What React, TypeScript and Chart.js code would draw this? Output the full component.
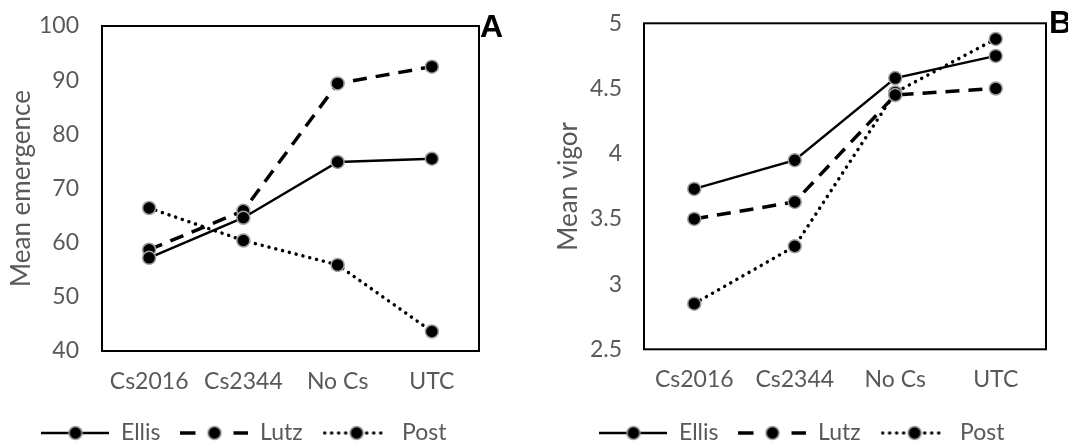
import React, { useEffect, useRef } from 'react';
import { Chart, registerables } from 'chart.js';

Chart.register(...registerables);

// ---------- data ----------
const categories = ['Cs2016', 'Cs2344', 'No Cs', 'UTC'];
const seriesNames = ['Ellis', 'Lutz', 'Post'];

const emergenceEllis = [57.2, 64.6, 74.9, 75.5];
const emergenceLutz = [58.7, 65.9, 89.4, 92.5];
const emergencePost = [66.4, 60.4, 55.9, 43.6];

const vigorEllis = [3.73, 3.95, 4.58, 4.75];
const vigorLutz = [3.5, 3.63, 4.45, 4.5];
const vigorPost = [2.85, 3.29, 4.47, 4.88];

const emergenceTicks = [40, 50, 60, 70, 80, 90, 100];
const vigorTicks = [2.5, 3, 3.5, 4, 4.5, 5];

// ---------- styles ----------
const GRAY = '#595959';
const FONT = { family: 'Lato', size: 23 };
const TITLE_FONT = { family: 'Lato', size: 26, lineHeight: 1 };
const lineStyles = [
  { width: 2.5, dash: [] as number[], cap: 'butt' as CanvasLineCap },
  { width: 3.5, dash: [14, 9], cap: 'butt' as CanvasLineCap },
  { width: 3.5, dash: [0.01, 7], cap: 'round' as CanvasLineCap },
];

function makeSymbol(i: number): HTMLCanvasElement {
  const c = document.createElement('canvas');
  c.width = 68;
  c.height = 18;
  const ctx = c.getContext('2d')!;
  const st = lineStyles[i];
  const cy = 9;
  ctx.strokeStyle = '#000';
  ctx.lineWidth = st.width;
  ctx.lineCap = st.cap;
  if (i === 1) {
    ctx.beginPath();
    ctx.moveTo(0, cy);
    ctx.lineTo(15, cy);
    ctx.moveTo(53, cy);
    ctx.lineTo(68, cy);
    ctx.stroke();
  } else {
    ctx.setLineDash(st.dash);
    ctx.beginPath();
    ctx.moveTo(i === 2 ? 2 : 0, cy);
    ctx.lineTo(i === 2 ? 64 : 68, cy);
    ctx.stroke();
    ctx.setLineDash([]);
  }
  ctx.beginPath();
  ctx.arc(34, cy, 6.5, 0, Math.PI * 2);
  ctx.fillStyle = '#000';
  ctx.fill();
  ctx.lineWidth = 1.5;
  ctx.strokeStyle = '#a0a0a0';
  ctx.stroke();
  return c;
}

const framePlugin = {
  id: 'frame',
  beforeDatasetsDraw(chart: any) {
    const { ctx, chartArea } = chart;
    const { left, top, right, bottom } = chartArea;
    ctx.save();
    ctx.strokeStyle = '#000';
    ctx.lineWidth = 2;
    ctx.strokeRect(left, top, right - left, bottom - top);
    ctx.restore();
  },
};

interface PanelProps {
  series: number[][];
  ticks: number[];
  yTitle: string;
  yWidth: number;
  xHeight: number;
  padLeft: number;
  padRight: number;
  padTop: number;
  tickPad: number;
  titlePad: number;
  xPad: number;
  width: number;
  left: number;
}

function Panel(p: PanelProps) {
  const ref = useRef<HTMLCanvasElement>(null);
  useEffect(() => {
    const symbols = seriesNames.map((_, i) => makeSymbol(i));
    const chart = new Chart(ref.current!, {
      type: 'line',
      data: {
        labels: categories,
        datasets: p.series.map((vals, i) => ({
          label: seriesNames[i],
          data: vals,
          borderColor: '#000',
          borderWidth: lineStyles[i].width,
          borderDash: lineStyles[i].dash,
          borderCapStyle: lineStyles[i].cap,
          pointRadius: 6.5,
          pointBorderWidth: 1.5,
          pointBorderColor: '#a0a0a0',
          pointBackgroundColor: '#000',
          pointStyle: 'circle',
          tension: 0,
          fill: false,
          clip: false,
        })),
      },
      options: {
        animation: false,
        responsive: false,
        maintainAspectRatio: false,
        layout: { padding: { left: p.padLeft, right: p.padRight, top: p.padTop, bottom: -9.5 } },
        plugins: {
          tooltip: { enabled: false },
          legend: {
            display: true,
            position: 'bottom',
            labels: {
              usePointStyle: true,
              pointStyleWidth: 68,
              padding: 20,
              color: GRAY,
              font: FONT,
              generateLabels: () =>
                seriesNames.map((name, i) => ({
                  text: name,
                  pointStyle: symbols[i],
                  datasetIndex: i,
                  fontColor: GRAY,
                  fillStyle: 'transparent',
                  strokeStyle: 'transparent',
                  lineWidth: 0,
                  hidden: false,
                })),
            },
          },
        },
        scales: {
          x: {
            offset: true,
            grid: { display: false, drawTicks: false },
            border: { display: false },
            ticks: { color: GRAY, font: FONT, padding: p.xPad, maxRotation: 0, autoSkip: false },
            afterFit: (s: any) => {
              s.height = p.xHeight;
              s.paddingLeft = 0;
              s.paddingRight = 0;
            },
          },
          y: {
            min: p.ticks[0],
            max: p.ticks[p.ticks.length - 1],
            grid: { display: false, drawTicks: false },
            border: { display: false },
            ticks: {
              color: GRAY,
              font: FONT,
              padding: p.tickPad,
              stepSize: p.ticks[1] - p.ticks[0],
              callback: (v: any) => String(+v),
            },
            title: {
              display: true,
              text: p.yTitle,
              color: GRAY,
              font: TITLE_FONT,
              padding: { top: p.titlePad, bottom: 0 },
            },
            afterFit: (s: any) => {
              s.width = p.yWidth;
              s.paddingTop = 0;
              s.paddingBottom = 0;
            },
          },
        },
      },
      plugins: [framePlugin],
    } as any);
    return () => chart.destroy();
  }, []);
  return (
    <canvas
      ref={ref}
      width={p.width}
      height={445}
      style={{ position: 'absolute', left: p.left, top: 0, width: p.width, height: 445, display: 'block' }}
    />
  );
}

const letterStyle: React.CSSProperties = {
  position: 'absolute',
  fontFamily: '"Liberation Sans", Arial, sans-serif',
  fontWeight: 'bold',
  fontSize: 32,
  lineHeight: '32px',
  color: '#000',
};

export default function App() {
  return (
    <div style={{ position: 'absolute', left: 0, top: 0, width: 1068, height: 445, background: '#fff', overflow: 'hidden' }}>
      <Panel
        series={[emergenceEllis, emergenceLutz, emergencePost]}
        ticks={emergenceTicks}
        yTitle="Mean emergence"
        yWidth={93}
        xHeight={50.5}
        padLeft={9}
        padRight={9}
        padTop={26}
        tickPad={23}
        titlePad={0}
        xPad={16.9}
        width={488}
        left={0}
      />
      <Panel
        series={[vigorEllis, vigorLutz, vigorPost]}
        ticks={vigorTicks}
        yTitle="Mean vigor"
        yWidth={86}
        xHeight={52.2}
        padLeft={22}
        padRight={22}
        padTop={23.3}
        tickPad={22}
        titlePad={-2}
        xPad={16.9}
        width={532}
        left={536}
      />
      <div style={{ ...letterStyle, left: 480, top: 10 }}>A</div>
      <div style={{ ...letterStyle, left: 1049, top: 6 }}>B</div>
    </div>
  );
}
